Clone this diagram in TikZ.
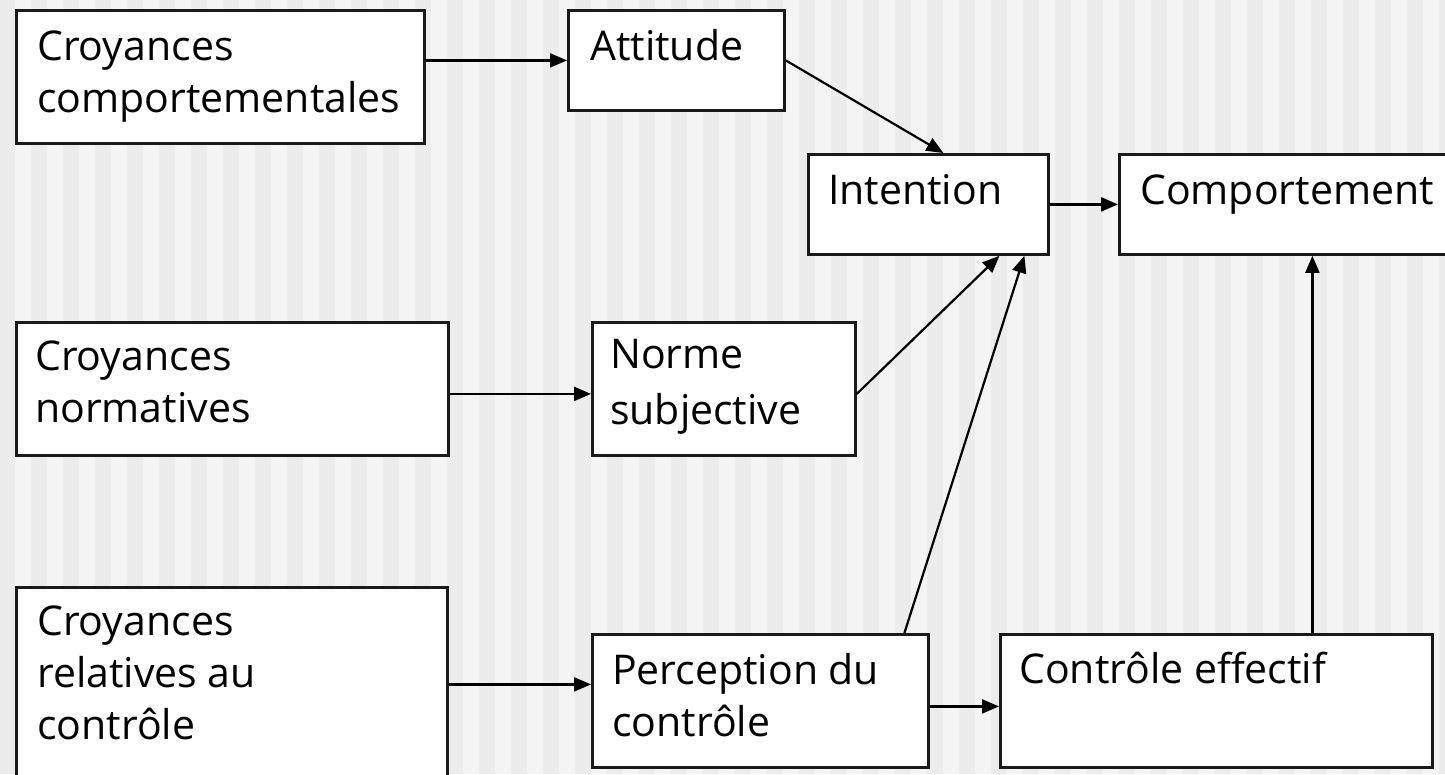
\documentclass[tikz,border=0pt]{standalone}
\usepackage{fontspec}
\setmainfont{Open Sans}
\usetikzlibrary{arrows.meta,calc}
\definecolor{bgdark}{HTML}{ECECEC}
\definecolor{bglight}{HTML}{F4F4F4}
\definecolor{ink}{HTML}{1A1A1A}
\begin{document}
\begin{tikzpicture}[x=1pt,y=-1pt,
  box/.style={draw=ink, line width=2.8pt, fill=white, anchor=north west, inner sep=0pt},
  txt/.style={anchor=base west, inner sep=0pt, text=black, font=\fontsize{41}{52}\selectfont},
  arr/.style={draw=black, line width=2.2pt, -{Triangle[length=17pt,width=14pt]}}]
\useasboundingbox (0,0) rectangle (1445,774);
\clip (0,0) rectangle (1445,774);
% background stripes
\fill[bgdark] (0,0) rectangle (1445,774);
\foreach \i in {0,...,44} \fill[bglight] ({15+32*\i},0) rectangle ({31+32*\i},774);
% boxes
\node[box, minimum width=408pt, minimum height=133pt] (b1) at (15,9) {};
\node[box, minimum width=216pt, minimum height=100pt] (att) at (567,9) {};
\node[box, minimum width=240pt, minimum height=100pt] (int) at (807,153) {};
\node[box, minimum width=360pt, minimum height=100pt] (com) at (1118,153) {};
\node[box, minimum width=432pt, minimum height=133pt] (cn) at (15,321) {};
\node[box, minimum width=263pt, minimum height=133pt] (ns) at (591,321) {};
\node[box, minimum width=431pt, minimum height=220pt] (cr) at (15,586) {};
\node[box, minimum width=336pt, minimum height=133pt] (pc) at (591,633) {};
\node[box, minimum width=432pt, minimum height=133pt] (ce) at (999,633) {};
% texts
\node[txt] (t1) at (37,60) {\begin{tabular}[t]{@{}l@{}}Croyances\\comportementales\end{tabular}};
\node[txt] (t2) at (590,60) {Attitude};
\node[txt] (t3) at (828,204) {Intention};
\node[txt] (t4) at (1140,204) {Comportement};
\node[txt] (t5) at (35,370) {\begin{tabular}[t]{@{}l@{}}Croyances\\normatives\end{tabular}};
\node[txt, font=\fontsize{41}{56}\selectfont] (t6) at (610,368) {\begin{tabular}[t]{@{}l@{}}Norme\\subjective\end{tabular}};
\node[txt] (t7) at (37,635) {\begin{tabular}[t]{@{}l@{}}Croyances\\relatives au\\contrôle\end{tabular}};
\node[txt] (t8) at (612,684) {\begin{tabular}[t]{@{}l@{}}Perception du\\contrôle\end{tabular}};
\node[txt] (t9) at (1019,683) {Contrôle effectif};
% connectors
\draw[arr] (b1.east |- att.west) -- (att.west);
\coordinate (nsin) at ([yshift=-5pt]ns.west);
\draw[arr] (cn.east |- nsin) -- (nsin);
\coordinate (pcin) at ([yshift=16.5pt]pc.west);
\draw[arr] (cr.east |- pcin) -- (pcin);
\coordinate (pcout) at ([yshift=-5.5pt]pc.east);
\draw[arr] (pcout) -- (ce.west |- pcout);
\draw[arr] (int.east) -- (com.west |- int.east);
\draw[arr] (att.east) -- ([xshift=15pt]int.north);
\draw[arr] ([yshift=-5pt]ns.east) -- ([xshift=71pt]int.south);
\draw[arr] ([xshift=144pt]pc.north) -- ([xshift=96pt]int.south);
\coordinate (cetop) at ([xshift=96pt]ce.north);
\draw[arr] (cetop) -- (cetop |- com.south);
\end{tikzpicture}
\end{document}
